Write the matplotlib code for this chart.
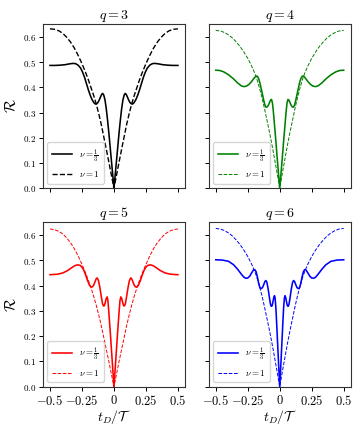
import numpy as np
import matplotlib
matplotlib.use('Agg')
import matplotlib.pyplot as plt

plt.rcParams['font.family'] = 'serif'
plt.rcParams['font.serif'] = ['cmr10']
plt.rcParams['mathtext.fontset'] = 'cm'
plt.rcParams['axes.formatter.use_mathtext'] = True

## Data (t >= 0 half, curves are symmetric in t_D)
# nu = 1/3
t_q3 = [0.000, 0.010, 0.020, 0.030, 0.040, 0.050, 0.060, 0.070, 0.080, 0.088, 0.096, 0.105,
        0.115, 0.125, 0.135, 0.145, 0.155, 0.170, 0.185, 0.200, 0.215, 0.230, 0.245, 0.260,
        0.280, 0.300, 0.320, 0.350, 0.380, 0.420, 0.460, 0.500]
r_q3 = [0.000, 0.055, 0.110, 0.165, 0.220, 0.270, 0.315, 0.350, 0.370, 0.376, 0.372, 0.362,
        0.350, 0.340, 0.335, 0.334, 0.338, 0.350, 0.368, 0.390, 0.415, 0.440, 0.460, 0.476,
        0.488, 0.494, 0.495, 0.493, 0.490, 0.488, 0.487, 0.487]

t_q4 = [0.000, 0.010, 0.020, 0.030, 0.040, 0.050, 0.057, 0.064, 0.071, 0.080, 0.090, 0.100,
        0.108, 0.116, 0.125, 0.135, 0.145, 0.155, 0.165, 0.175, 0.185, 0.195, 0.210, 0.225,
        0.240, 0.260, 0.280, 0.300, 0.330, 0.360, 0.400, 0.440, 0.470, 0.500]
r_q4 = [0.000, 0.060, 0.120, 0.185, 0.245, 0.305, 0.338, 0.352, 0.350, 0.340, 0.328, 0.322,
        0.322, 0.330, 0.348, 0.372, 0.395, 0.418, 0.435, 0.444, 0.445, 0.440, 0.430, 0.420,
        0.412, 0.405, 0.403, 0.406, 0.418, 0.433, 0.450, 0.462, 0.467, 0.468]

t_q5 = [0.000, 0.010, 0.020, 0.030, 0.040, 0.047, 0.053, 0.060, 0.068, 0.076, 0.083, 0.090,
        0.100, 0.110, 0.120, 0.130, 0.138, 0.148, 0.158, 0.168, 0.178, 0.190, 0.205, 0.220,
        0.235, 0.250, 0.265, 0.285, 0.305, 0.330, 0.360, 0.400, 0.440, 0.500]
r_q5 = [0.000, 0.075, 0.150, 0.225, 0.295, 0.340, 0.355, 0.350, 0.333, 0.320, 0.320, 0.330,
        0.360, 0.392, 0.418, 0.430, 0.428, 0.415, 0.402, 0.395, 0.394, 0.400, 0.418, 0.440,
        0.460, 0.473, 0.480, 0.482, 0.479, 0.471, 0.460, 0.450, 0.445, 0.443]

t_q6 = [0.000, 0.008, 0.016, 0.024, 0.030, 0.036, 0.041, 0.047, 0.054, 0.060, 0.066, 0.072,
        0.080, 0.090, 0.100, 0.108, 0.116, 0.125, 0.135, 0.145, 0.155, 0.165, 0.175, 0.185,
        0.195, 0.205, 0.220, 0.235, 0.250, 0.265, 0.280, 0.300, 0.330, 0.360, 0.400, 0.450, 0.500]
r_q6 = [0.000, 0.080, 0.165, 0.250, 0.310, 0.350, 0.360, 0.352, 0.333, 0.320, 0.318, 0.325,
        0.350, 0.385, 0.412, 0.420, 0.416, 0.404, 0.392, 0.388, 0.392, 0.410, 0.435, 0.455,
        0.463, 0.462, 0.450, 0.437, 0.430, 0.429, 0.433, 0.445, 0.465, 0.482, 0.496, 0.501, 0.502]

# nu = 1
t_dash = [0.00, 0.02, 0.04, 0.06, 0.08, 0.10, 0.12, 0.14, 0.16, 0.18, 0.20, 0.22, 0.25,
          0.28, 0.31, 0.34, 0.37, 0.40, 0.43, 0.46, 0.50]
r_dash_q3 = [0.000, 0.052, 0.104, 0.155, 0.205, 0.255, 0.298, 0.337, 0.370, 0.400, 0.430,
             0.457, 0.494, 0.527, 0.556, 0.580, 0.599, 0.614, 0.624, 0.630, 0.632]
r_dash_q4 = [0.000, 0.058, 0.115, 0.170, 0.222, 0.270, 0.318, 0.362, 0.400, 0.435, 0.462,
             0.485, 0.515, 0.540, 0.562, 0.580, 0.596, 0.608, 0.617, 0.623, 0.626]
r_dash_q5 = [0.000, 0.050, 0.100, 0.148, 0.196, 0.243, 0.286, 0.325, 0.360, 0.392, 0.421,
             0.448, 0.484, 0.517, 0.546, 0.570, 0.589, 0.604, 0.614, 0.620, 0.624]
r_dash_q6 = [0.000, 0.058, 0.115, 0.170, 0.222, 0.270, 0.318, 0.362, 0.400, 0.435, 0.462,
             0.485, 0.515, 0.540, 0.562, 0.580, 0.596, 0.608, 0.617, 0.623, 0.626]

q_values = [3, 4, 5, 6]
colors = ['k', 'g', 'r', 'b']
x_ticks = [-0.5, -0.25, 0, 0.25, 0.5]
x_ticklabels = [r'$-0.5$', r'$-0.25$', r'$0$', r'$0.25$', r'$0.5$']
y_ticks = [0.0, 0.1, 0.2, 0.3, 0.4, 0.5, 0.6]


def mirror(t, r):
    t = np.asarray(t)
    r = np.asarray(r)
    return np.concatenate([-t[::-1], t[1:]]), np.concatenate([r[::-1], r[1:]])


fig = plt.figure(figsize=(3.55, 4.25), dpi=100)
positions = [[0.121, 0.557, 0.400, 0.387], [0.588, 0.557, 0.400, 0.387],
             [0.121, 0.090, 0.400, 0.388], [0.588, 0.090, 0.400, 0.388]]
solid = [(t_q3, r_q3), (t_q4, r_q4), (t_q5, r_q5), (t_q6, r_q6)]
dashed = [r_dash_q3, r_dash_q4, r_dash_q5, r_dash_q6]

for i, q in enumerate(q_values):
    ax = fig.add_axes(positions[i])
    ts, rs = mirror(*solid[i])
    td, rd = mirror(t_dash, dashed[i])
    ax.plot(ts, rs, color=colors[i], lw=1.15, label=r'$\nu=\frac{1}{3}$')
    if i == 0:
        ax.plot(td, rd, '--', color=colors[i], lw=1.0, label=r'$\nu=1$')
    else:
        ax.plot(td, rd, '--', color=colors[i], lw=0.7, label=r'$\nu=1$')
    ax.set_xlim(-0.555, 0.555)
    ax.set_ylim(0, 0.652)
    ax.set_xticks(x_ticks)
    ax.set_yticks(y_ticks)
    if i >= 2:
        ax.set_xticklabels(x_ticklabels)
        ax.set_xlabel(r'$t_D/\mathcal{T}$', fontsize=10, labelpad=0)
    else:
        ax.set_xticklabels([])
    if i % 2 == 0:
        ax.set_ylabel(r'$\mathcal{R}$', fontsize=11, labelpad=3)
    else:
        ax.set_yticklabels([])
    ax.tick_params(axis='x', labelsize=9, length=3, width=0.7, pad=2)
    ax.tick_params(axis='y', labelsize=6.5, length=3, width=0.7, pad=2)
    for s in ax.spines.values():
        s.set_linewidth(0.8)
        s.set_color('0.2')
    ax.set_title(r'$q=%d$' % q, fontsize=10, pad=3)
    ax.legend(loc='lower left', fontsize=6.5, handlelength=2.2, borderpad=0.5,
              labelspacing=0.6, handletextpad=0.8)

fig.savefig('out.png', dpi=100)
